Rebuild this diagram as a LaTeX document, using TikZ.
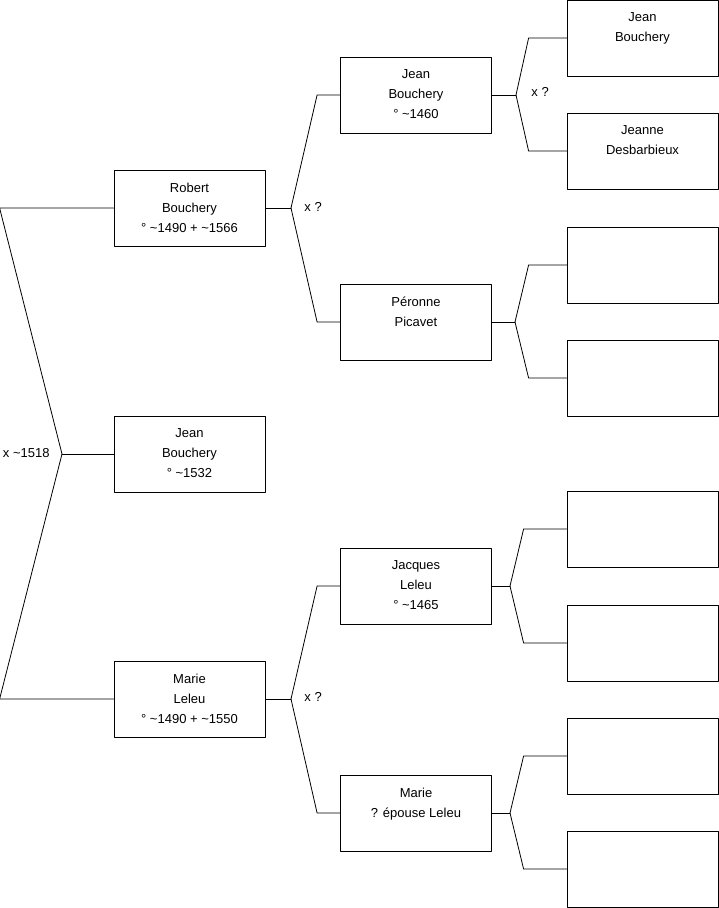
\documentclass[tikz,border=0pt]{standalone}
\usepackage{fontspec}
\setmainfont{Liberation Sans}
\usetikzlibrary{calc}
\begin{document}
\begin{tikzpicture}[x=1pt, y=-1pt, line width=0.8pt, line join=round, line cap=round,
		font=\fontsize{13}{20}\selectfont,
		person/.style={draw, minimum width=151pt, minimum height=76pt, inner sep=0pt},
		who/.style={anchor=north, align=center, inner sep=0pt, yshift=-12.8pt},
		mariage/.style={inner sep=4pt}]
			\useasboundingbox (0,0) rectangle (719,908);
			\node[person, label={[who]north:Robert\\Bouchery\\° \textasciitilde1490 + \textasciitilde1566}] (R) at (189.5,208) {};
			\node[person, label={[who]north:Jean\\Bouchery\\° \textasciitilde1532}] (J) at (189.5,454) {};
			\node[person, label={[who]north:Marie\\Leleu\\° \textasciitilde1490 + \textasciitilde1550}] (M) at (189.5,699) {};
			\node[person, label={[who]north:Jean\\Bouchery\\° \textasciitilde1460}] (RP) at (416,95) {};
			\node[person, label={[who]north:Péronne\\Picavet}] (RM) at (416,322) {};
			\node[person, label={[who]north:Jacques\\Leleu\\° \textasciitilde1465}] (MP) at (416,586) {};
			\node[person, label={[who]north:Marie\\? épouse Leleu}] (MM) at (416,813) {};
			\node[person, label={[who]north:Jean\\Bouchery}] (RPP) at (642.5,38) {};
			\node[person, label={[who]north:Jeanne\\Desbarbieux}] (RPM) at (642.5,151) {};
			\foreach \y/\n in {265/RMP,378/RMM,529/MPP,643/MPM,756/MMP,869/MMM}
				\node[person] (\n) at (642.5,\y) {};
			\coordinate (f1) at (62,454);
			\coordinate (f2) at (291,208);
			\coordinate (f3) at (516,95);
			\coordinate (f4) at (515,322);
			\coordinate (f5) at (510,586);
			\coordinate (f6) at (510,813);
			\coordinate (f7) at (291,699);
			\draw (J.west) -- (f1);
			\draw (f1) -- ($(R.west)+(-114,0)$) -- (R.west);
			\draw (f1) -- ($(M.west)+(-114,0)$) -- (M.west);
			\draw (R.east) -- (f2);
			\draw (f2) -- ($(RP.west)+(-23,0)$) -- (RP.west);
			\draw (f2) -- ($(RM.west)+(-23,0)$) -- (RM.west);
			\draw (M.east) -- (f7);
			\draw (f7) -- ($(MP.west)+(-23,0)$) -- (MP.west);
			\draw (f7) -- ($(MM.west)+(-23,0)$) -- (MM.west);
			\draw (RP.east) -- (f3);
			\draw (f3) -- ($(RPP.west)+(-38,0)$) -- (RPP.west);
			\draw (f3) -- ($(RPM.west)+(-38,0)$) -- (RPM.west);
			\draw (RM.east) -- (f4);
			\draw (f4) -- ($(RMP.west)+(-38,0)$) -- (RMP.west);
			\draw (f4) -- ($(RMM.west)+(-38,0)$) -- (RMM.west);
			\draw (MP.east) -- (f5);
			\draw (f5) -- ($(MPP.west)+(-43,0)$) -- (MPP.west);
			\draw (f5) -- ($(MPM.west)+(-43,0)$) -- (MPM.west);
			\draw (MM.east) -- (f6);
			\draw (f6) -- ($(MMP.west)+(-43,0)$) -- (MMP.west);
			\draw (f6) -- ($(MMM.west)+(-43,0)$) -- (MMM.west);
			\node[mariage, anchor=east] (x1) at (54,453) {x \textasciitilde1518};
			\node[mariage, anchor=west] (x2) at (300,207) {x ?};
			\node[mariage, anchor=west] (x7) at (300,697) {x ?};
			\node[mariage, anchor=west] (x3) at (527,92) {x ?};
		\end{tikzpicture}
\end{document}
